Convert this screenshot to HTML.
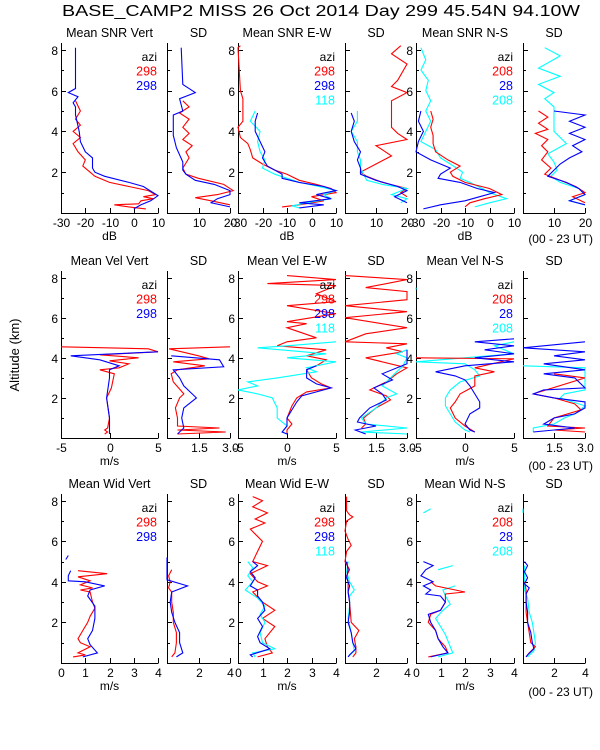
<!DOCTYPE html>
<html><head><meta charset="utf-8">
<style>
html,body{margin:0;padding:0;background:#fff;}
svg{display:block;font-family:"Liberation Sans",sans-serif;}
</style></head>
<body>
<svg id="chart" width="600" height="750" viewBox="0 0 600 750" xmlns="http://www.w3.org/2000/svg">
<rect x="0" y="0" width="600" height="750" fill="#fff"/>
<text x="62" y="16" font-size="15.5" fill="#000" textLength="518" lengthAdjust="spacingAndGlyphs">BASE_CAMP2 MISS  26 Oct 2014 Day 299 45.54N  94.10W</text>
<text transform="translate(19,355) rotate(-90)" text-anchor="middle" font-size="13" fill="#000">Altitude (km)</text>
<g id="plots"></g>
</svg>
<script>
// ---- data: altitude (km) arrays and value arrays; null = gap ----
// Row 1: SNR (dB) and SD
const snrVertRedAlt=[5.5,5.0,4.6,4.3,4.0,3.7,3.4,3.0,2.6,2.3,2.0,1.8,1.5,1.3,1.1,0.9,0.8,0.7,0.6,0.45,0.4,0.3,0.2];
const snrVertRedVal=[-24,-22,-24,-22,-25,-22,-25,-23,-20,-21,-18,-16,-10,-2,6,9,4,8,3,2,-8,-2,5];
const snrVertBlueAlt=[8.1,6.1,5.9,5.7,5.4,5.2,4.8,4.0,3.5,3.0,2.7,2.2,2.0,1.8,1.5,1.3,1.0,0.85,0.6,0.4,0.2];
const snrVertBlueVal=[-24,-24,-27,-23,-25,-24,-24,-22.5,-22,-20,-17,-17,-16,-12,-2,4,8,10,7,3,0];
const sdVertRedAlt=[5.5,5.2,4.9,4.6,4.2,3.9,3.6,3.3,3.0,2.7,2.2,1.9,1.7,1.4,1.1,0.9,0.75,0.6,0.4];
const sdVertRedVal=[5,7,4,7,5,7,5,8,6,7,5,6,10,18,21,16,9,14,20];
const sdVertBlueAlt=[8.1,6.3,5.9,5.6,5.0,4.8,3.8,3.2,2.5,2.1,1.9,1.6,1.4,1.1,0.9,0.7,0.5,0.3];
const sdVertBlueVal=[4.5,5,9,4,5,2,2,3,5,5,6,9,15,20,20,16,14,20];
const snrEwRedAlt=[8.2,8.1,6.0,5.6,4.5,4.2,3.7,3.4,3.1,2.7,2.4,2.1,1.9,1.6,1.4,1.2,1.0,0.8,0.6,0.4,0.3];
const snrEwRedVal=[-29,-30,-29,-28,-28,-30,-29,-26,-25,-24,-20,-15,-10,-5,2,8,10,0,5,-5,-12];
const snrEwBlueAlt=[4.9,4.5,4.0,3.5,3.0,2.7,2.3,2.1,1.9,1.7,1.5,1.3,1.1,0.9,0.7,0.5,0.4,0.25];
const snrEwBlueVal=[-22,-23,-23,-21,-19,-20,-18,-15,-12,-12,-5,5,10,2,8,-5,5,-5];
const snrEwCyanAlt=[5.0,4.5,4.0,3.5,3.0,2.6,2.2,1.9,1.7,1.5,1.3,1.1,0.9,0.7,0.5,0.35,0.25];
const snrEwCyanVal=[-23,-25,-21,-22,-21,-19,-20,-15,-10,-5,3,10,5,8,-2,-8,-5];
const sdEwRedAlt=[8.2,7.8,7.3,6.5,6.2,5.9,5.5,4.2,3.9,3.6,3.3,3.1,2.8,2.4,2.0,1.8,1.5,1.2,1.0,0.8];
const sdEwRedVal=[18,15,20,17,15,20,15,15,17,20,10,12,15,10,5,7,12,20,18,20];
const sdEwBlueAlt=[4.9,4.5,4.0,3.5,3.0,2.6,2.2,1.9,1.6,1.3,1.1,0.8,0.5];
const sdEwBlueVal=[2,3,2,3,5,4,5,5,10,17,20,16,20];
const sdEwCyanAlt=[5.0,4.5,4.0,3.5,3.0,2.6,2.2,1.9,1.6,1.4,1.2,0.9,0.7,0.5];
const sdEwCyanVal=[4,4,2,4,4,5,5,6,7,12,20,15,20,18];
const snrNsRedAlt=[5.0,4.6,4.2,3.8,3.4,3.0,2.6,2.3,2.0,1.8,1.5,1.2,0.9,0.7,0.5,0.3];
const snrNsRedVal=[-24,-23,-24,-23,-23,-22,-17,-12,-16,-15,-10,0,5,-2,-8,-10];
const snrNsBlueAlt=[5.0,4.5,4.0,3.5,3.0,2.6,2.2,1.9,1.7,1.5,1.2,1.0,0.8,0.6,0.4,0.2];
const snrNsBlueVal=[-28,-29,-27,-29,-30,-24,-16,-20,-21,-12,-5,2,-4,-10,-20,-27];
const snrNsCyanAlt=[8.1,7.5,7.0,6.5,6.0,5.5,5.0,4.5,4.0,3.5,3.1,2.7,2.4,2.0,1.7,1.5,1.2,1.0,0.7,0.5,0.3];
const snrNsCyanVal=[-28,-26,-28,-25,-26,-24,-26,-24,-26,-28,-22,-20,-16,-11,-12,-8,-3,0,7,0,-6];
const sdNsRedAlt=[5.0,4.7,4.4,4.1,3.9,3.6,3.3,3.0,2.6,2.2,1.9,1.6,1.3,1.0,0.8,0.5];
const sdNsRedVal=[5,8,5,8,4,8,6,8,6,9,7,12,17,20,16,20];
const sdNsBlueAlt=[5.0,4.8,4.5,4.2,3.9,3.6,3.3,3.0,2.7,2.4,2.1,1.8,1.5,1.2,0.9,0.6,0.4];
const sdNsBlueVal=[10,20,15,20,15,20,16,19,15,12,10,8,14,18,20,15,20];
const sdNsCyanAlt=[8.1,7.7,7.1,6.7,6.3,5.9,5.6,5.2,4.0,3.4,2.9,2.5,2.1,1.8,1.5,1.2,0.9,0.6,0.4];
const sdNsCyanVal=[7,12,5,12,5,10,7,10,10,14,8,10,11,9,12,18,20,15,20];
// Row 2: radial velocity (m/s) and SD
const velVertRedAlt=[4.55,4.45,4.3,4.15,4.0,3.85,3.7,3.5,3.4,3.2,2.5,2.0,1.0,0.5,0.4,0.3,0.2];
const velVertRedVal=[-5,4,5,-1,3,0,2,1,-1,0.5,0.2,-0.3,0,-0.2,-0.5,-0.2,-0.5];
const velVertBlueAlt=[4.3,4.1,3.9,3.6,3.4,3.0,2.0,1.0,0.4,0.2];
const velVertBlueVal=[5,-4,-1,1,0,0,-0.3,0,0,0];
const velSdVertRedAlt=[4.55,4.45,4.1,3.95,3.8,3.6,3.4,3.2,2.8,2.2,2.0,1.5,1.0,0.6,0.5,0.4,0.3,0.2];
const velSdVertRedVal=[3,0.1,1.5,2,0.3,1.8,0.5,0.2,0.3,0.8,0.6,0.4,0.5,0.5,2.5,0.5,2.8,0.5];
const velSdVertBlueAlt=[4.1,3.9,3.55,3.4,3.0,2.6,2.0,1.5,1.0,0.5,0.2];
const velSdVertBlueVal=[0.2,2.5,2.7,0.3,0.6,0.8,1.4,0.8,0.7,0.8,0.5];
const velEwRedAlt=[8.1,7.9,7.7,7.6,7.2,6.8,6.6,6.2,5.8,5.7,5.5,5.0,4.8,4.6,4.4,4.1,3.9,3.6,3.4,3.0,2.7,2.5,2.3,2.0,1.6,1.0,0.7,0.4,0.2];
const velEwRedVal=[0,5,-2,5,3,5,0,5,0,2,0,3,0,-1,4,2,4,3,2,2.5,3.5,4.5,2,1,0.5,0,0.5,0,0];
const velEwBlueAlt=[3.6,3.4,3.0,2.7,2.5,2.3,2.1,1.8,1.4,1.0,0.6,0.3,0.2];
const velEwBlueVal=[3,2,2,3,4.5,3,1.5,1,0.5,0,0,-0.5,0];
const velEwCyanAlt=[4.8,4.6,4.5,4.2,4.0,3.8,3.5,3.3,3.0,2.8,2.6,2.4,2.2,2.0,1.5,1.0,0.6,0.3,0.2];
const velEwCyanVal=[5,0,-3,4,0,5,2,3,-1,-4,-3,-5,-3,-1.5,-1,-1,0,-0.5,0];
const velSdEwRedAlt=[8.1,7.9,7.5,7.3,6.9,6.6,6.3,6.0,5.5,5.2,4.8,4.7,4.5,4.3,4.0,3.5,3.2,2.8,2.4,2.1,1.9,1.5,1.0,0.7,0.5];
const velSdEwRedVal=[0,3,1,3,3,0,3,0,3,1,0,3,2,2.8,1,3,2.5,2,1.2,2,2.2,1.5,0.9,1,0.8];
const velSdEwBlueAlt=[4.4,4.0,3.7,3.2,2.9,2.5,2.2,1.9,1.5,1.0,0.8,0.6,0.4,0.2];
const velSdEwBlueVal=[3,3,3,1.8,2.3,1.4,1.8,2.0,1.2,0.7,0.6,1.5,0.5,1];
const velSdEwCyanAlt=[4.4,4.2,4.0,3.6,3.3,3.0,2.6,2.2,2.0,1.5,1.0,0.7,0.5,0.3,0.2];
const velSdEwCyanVal=[3,2.5,3,2.8,2.5,2.2,1.8,2.5,2,1.5,0.8,1,3,0.8,3];
const velNsRedAlt=[4.0,3.95,3.5,3.3,3.1,2.9,2.6,2.2,1.8,1.5,1.0,0.6,0.3];
const velNsRedVal=[-5,5,1,3,1,1,1,-0.5,-1,-1.5,-1,0,1];
const velNsBlueAlt=[4.95,4.8,4.6,4.4,4.2,4.0,3.8,3.6,3.3,3.1,2.9,2.6,2.2,1.8,1.5,1.2,0.7,0.4,0.3];
const velNsBlueVal=[5,1,5,2,5,1,5,0,-3,-1,0,0.5,1,1.5,1.5,0.5,0,0.5,1];
const velNsCyanAlt=[7.5,7.4,null,4.8,4.6,4.2,3.8,3.7,3.4,3.1,2.8,2.4,2.0,1.6,1.2,0.8,0.4,0.3];
const velNsCyanVal=[-5,-5,null,5,3,5,-5,0,1,1.5,-0.5,-1.5,-2,-2,-1.5,-1,0,0.5];
const velSdNsRedAlt=[3.2,3.0,2.2,2.0,1.7,1.4,1.0,0.6,0.5,0.4,0.3];
const velSdNsRedVal=[1.5,3,0.5,1.5,2.5,2.8,1.5,1.2,3,1.5,3];
const velSdNsBlueAlt=[4.8,4.5,4.3,4.1,3.9,3.7,3.4,3.2,3.0,2.5,2.4,2.2,2.0,1.8,1.5,1.2,1.0,0.7,0.5,0.3];
const velSdNsBlueVal=[3,0,3,1.5,3,1,3,1,2.5,3,1,0.5,1.5,3,3,2.5,1.5,1,2.5,0.5];
const velSdNsCyanAlt=[3.6,3.5,2.4,2.2,2.0,1.6,1.2,1.0,0.7,0.5,0.3];
const velSdNsCyanVal=[0,3,3,2,1.8,3,2.5,2,1.5,0.5,0.5];
// Row 3: spectral width (m/s) and SD
const widVertRedAlt=[4.55,4.4,4.25,4.05,3.85,3.7,3.6,3.5,3.0,2.7,2.3,2.0,1.6,1.2,1.0,0.8,0.5,0.4,0.3];
const widVertRedVal=[0.7,1.9,0.7,1.2,0.8,1.3,0.8,1.2,1.3,1.4,1.2,1.1,0.9,0.7,0.8,1.2,0.7,1,0.5];
const widVertBlueAlt=[5.3,5.1,null,4.55,4.3,4.05,4.0,3.8,3.6,3.3,2.8,2.2,1.6,1.2,0.9,0.5,0.3];
const widVertBlueVal=[0.3,0.2,null,0.4,0.3,0.3,1.0,1.8,1.2,1.1,1.4,1.4,1.3,1.1,1.2,1.5,0.9];
const widSdVertRedAlt=[4.6,4.3,4.0,3.7,3.5,3.0,2.5,2.0,1.5,1.0,0.5,0.3];
const widSdVertRedVal=[0.3,0.1,0.2,0.1,0.3,0.3,0.4,0.4,0.6,0.6,0.5,0.3];
const widSdVertBlueAlt=[5.2,4.1,3.8,3.5,3.0,2.5,2.0,1.5,1.0,0.5,0.3];
const widSdVertBlueVal=[0,0,1.3,0.3,0.2,0.3,0.5,0.8,0.8,1.0,0.6];
const widEwRedAlt=[8.2,8.0,7.7,7.4,7.1,6.9,6.6,6.0,5.5,5.0,4.8,4.4,4.0,3.8,3.5,3.0,2.6,2.2,1.8,1.2,0.8,0.5,0.3];
const widEwRedVal=[0.6,1.0,0.6,1.2,0.7,1.1,0.5,1,0.8,0.6,1.2,0.5,0.8,1.2,0.6,1.0,1.5,1.0,1.5,1.1,1.2,1.4,0.8];
const widEwBlueAlt=[5.0,4.8,4.5,4.2,3.8,3.6,3.3,3.0,2.6,2.2,1.8,1.3,1.0,0.7,0.4,0.3];
const widEwBlueVal=[0.6,0.8,0.5,0.7,0.5,0.8,0.8,1.0,1.1,0.8,1.0,0.8,0.9,1.3,0.5,0.6];
const widEwCyanAlt=[5.0,4.7,4.3,4.0,3.6,3.2,2.8,2.4,2.0,1.5,1.0,0.7,0.5,0.3];
const widEwCyanVal=[0.4,0.6,0.4,0.6,0.3,0.8,1.1,0.9,1.1,0.9,1.0,1.5,0.6,0.7];
const widSdEwRedAlt=[8.2,7.5,7.3,7.2,7.0,6.5,6.1,5.8,5.5,5.0,4.6,4.3,4.0,3.5,3.0,2.0,1.6,1.2,0.8,0.5,0.3];
const widSdEwRedVal=[0.1,0.1,0.3,0.5,0.1,0,0.2,0.4,0.1,0,0.3,0.1,0.2,0.2,0.3,0.4,0.9,0.6,0.7,0.7,0.5];
const widSdEwBlueAlt=[5.0,4.6,4.2,3.8,3.5,3.0,2.5,2.0,1.5,1.0,0.7,0.4,0.3];
const widSdEwBlueVal=[0.1,0.2,0.1,0.3,0.2,0.3,0.3,0.2,0.4,0.5,0.7,0.3,0.2];
const widSdEwCyanAlt=[5.0,4.5,4.0,3.6,3.3,2.8,2.2,1.5,1.0,0.6,0.3];
const widSdEwCyanVal=[0.2,0.1,0.3,0.6,0.3,0.3,0.2,0.4,0.5,0.6,0.2];
const widNsRedAlt=[4.0,3.8,3.5,3.4,3.0,2.6,2.4,2.0,1.6,1.2,0.8,0.5,0.3];
const widNsRedVal=[0.6,0.8,2.0,1.2,1.2,1.0,0.6,0.5,0.8,0.9,1.2,1.3,0.5];
const widNsBlueAlt=[5.0,4.8,4.6,4.3,4.0,3.8,3.6,3.4,3.3,3.0,2.6,2.4,2.0,1.6,1.2,0.8,0.5,0.3];
const widNsBlueVal=[0.3,0.7,0.4,0.2,0.7,0.3,0.6,0.4,1.0,1.2,1.0,0.5,0.6,0.8,0.9,1.1,1.3,0.6];
const widNsCyanAlt=[7.6,7.4,null,4.8,4.6,null,3.8,3.6,3.3,2.9,2.6,2.2,1.8,1.4,0.8,0.5,0.3];
const widNsCyanVal=[0.6,0.3,null,1.5,0.9,null,1.6,1.1,1.2,1.4,1.1,0.8,1.0,1.2,1.4,1.5,0.9];
const widSdNsRedAlt=[4.0,3.6,3.2,2.5,2.0,1.5,1.0,0.8,0.5,0.3];
const widSdNsRedVal=[0.1,0.2,0.2,0.2,0.3,0.4,0.5,0.8,0.4,0.2];
const widSdNsBlueAlt=[5.0,4.8,4.5,4.2,3.9,3.7,3.4,3.0,2.5,2.0,1.5,1.0,0.7,0.4,0.3];
const widSdNsBlueVal=[0.1,0.3,0.1,0.3,0.1,0.4,0.2,0.2,0.3,0.3,0.5,0.6,0.7,0.3,0.2];
const widSdNsCyanAlt=[7.6,7.4,null,4.8,3.6,3.2,2.5,2.0,1.5,1.0,0.6,0.3];
const widSdNsCyanVal=[0,0,null,0.1,0.1,0.3,0.4,0.6,0.7,0.8,0.7,0.3];
// tick labels
const snrTicks=[-30,-20,-10,0,10];
const snrSdTicks=[10,20];
const velTicks=[-5,0,5];
const velSdTicks=["1.5","3.0"];
const widTicks=[0,1,2,3,4];
const widSdTicks=[2,4];
const altTicks=[2,4,6,8];
const legendVert=["298","298"];
const legendEw=["298","298","118"];
const legendNs=["208","28","208"];

const NS="http://www.w3.org/2000/svg";
const root=document.getElementById('plots');
const RED="#ff0000",BLUE="#0000ff",CYAN="#00ffff";
const COLS=[[61,158],[167,230],[238,336],[345,407],[416,514],[523,585]];
const ROWS=[[43,213],[271,438],[494,663]];
const ALT_MAX=8.33;
function mk(tag,attrs,parent){const e=document.createElementNS(NS,tag);for(const k in attrs)e.setAttribute(k,attrs[k]);(parent||root).appendChild(e);return e;}
function txt(s,x,y,size,anchor,fill,parent){const t=mk('text',{x:x,y:y,'font-size':size,'text-anchor':anchor,fill:fill},parent);t.textContent=s;return t;}

function panel(r,c,title,name,xmin,xmax,ticks,xlabel,series,legend){
  const [x0,x1]=COLS[c],[y0,y1]=ROWS[r];
  const g=mk('g',{});
  
  
  const sx=v=>x0+(v-xmin)/(xmax-xmin)*(x1-x0);
  const sy=a=>y1-a/ALT_MAX*(y1-y0);
  const t=txt(title,(x0+x1)/2,y0-6,12.5,'middle','#000',g);
  
  
  const ax=mk('path',{d:`M${x0+0.5},${y0}V${y1+0.5}H${x1+0.5}`,stroke:'#000','stroke-width':1,fill:'none'},g);
  
  
  for(let a=1;a<=8;a++){const y=Math.round(sy(a))+0.5;const len=(a%2===0)?5:3;
    mk('line',{x1:x0,x2:x0+len,y1:y,y2:y,stroke:'#000'},g);
    if(a%2===0&&c%2===0){const l=txt(String(a),x0-3,y+4.5,12,'end','#000',g);
      
      }}
  ticks.forEach(tv=>{const v=parseFloat(tv);const x=Math.round(sx(v))+0.5;
    mk('line',{x1:x,x2:x,y1:y1,y2:y1-5,stroke:'#000'},g);
    const l=txt(String(tv),x,y1+14,12,'middle','#000',g);
    
    });
  if(xlabel){const l=txt(xlabel,(x0+x1)/2,y1+27,12,'middle','#000',g);
    
    }
  series.forEach(s=>{let d='',pen=false;
    for(let i=0;i<s.alt.length;i++){const a=s.alt[i],v=s.val[i];
      if(a===null||v===null){pen=false;continue;}
      d+=(pen?'L':'M')+sx(v).toFixed(1)+','+sy(a).toFixed(1);pen=true;}
    const p=mk('path',{d:d,stroke:s.color,'stroke-width':1.1,fill:'none'},g);
    
    });
  if(legend){const cols=[RED,BLUE,CYAN];const lx=x1-1;const ly=y0+18;
    const h=txt('azi',lx,ly,12,'end','#000',g);
    
    
    legend.forEach((s,i)=>{const e=txt(s,lx,ly+14.5*(i+1),12.5,'end',cols[i],g);
      
      });}
}
const S=(alt,val,color,label)=>({alt,val,color,label});
// Row 1
panel(0,0,'Mean SNR Vert','snr-vert',-30,10,snrTicks,'dB',[S(snrVertRedAlt,snrVertRedVal,RED,'red'),S(snrVertBlueAlt,snrVertBlueVal,BLUE,'blue')],legendVert);
panel(0,1,'SD','snr-vert-sd',0,20,snrSdTicks,'',[S(sdVertRedAlt,sdVertRedVal,RED,'red'),S(sdVertBlueAlt,sdVertBlueVal,BLUE,'blue')]);
panel(0,2,'Mean SNR E-W','snr-ew',-30,10,snrTicks,'dB',[S(snrEwRedAlt,snrEwRedVal,RED,'red'),S(snrEwCyanAlt,snrEwCyanVal,CYAN,'cyan'),S(snrEwBlueAlt,snrEwBlueVal,BLUE,'blue')],legendEw);
panel(0,3,'SD','snr-ew-sd',0,20,snrSdTicks,'',[S(sdEwRedAlt,sdEwRedVal,RED,'red'),S(sdEwCyanAlt,sdEwCyanVal,CYAN,'cyan'),S(sdEwBlueAlt,sdEwBlueVal,BLUE,'blue')]);
panel(0,4,'Mean SNR N-S','snr-ns',-30,10,snrTicks,'dB',[S(snrNsCyanAlt,snrNsCyanVal,CYAN,'cyan'),S(snrNsRedAlt,snrNsRedVal,RED,'red'),S(snrNsBlueAlt,snrNsBlueVal,BLUE,'blue')],legendNs);
panel(0,5,'SD','snr-ns-sd',0,20,snrSdTicks,'',[S(sdNsCyanAlt,sdNsCyanVal,CYAN,'cyan'),S(sdNsRedAlt,sdNsRedVal,RED,'red'),S(sdNsBlueAlt,sdNsBlueVal,BLUE,'blue')]);
// Row 2
panel(1,0,'Mean Vel Vert','vel-vert',-5,5,velTicks,'m/s',[S(velVertRedAlt,velVertRedVal,RED,'red'),S(velVertBlueAlt,velVertBlueVal,BLUE,'blue')],legendVert);
panel(1,1,'SD','vel-vert-sd',0,3,velSdTicks,'',[S(velSdVertRedAlt,velSdVertRedVal,RED,'red'),S(velSdVertBlueAlt,velSdVertBlueVal,BLUE,'blue')]);
panel(1,2,'Mean Vel E-W','vel-ew',-5,5,velTicks,'m/s',[S(velEwRedAlt,velEwRedVal,RED,'red'),S(velEwCyanAlt,velEwCyanVal,CYAN,'cyan'),S(velEwBlueAlt,velEwBlueVal,BLUE,'blue')],legendEw);
panel(1,3,'SD','vel-ew-sd',0,3,velSdTicks,'',[S(velSdEwRedAlt,velSdEwRedVal,RED,'red'),S(velSdEwCyanAlt,velSdEwCyanVal,CYAN,'cyan'),S(velSdEwBlueAlt,velSdEwBlueVal,BLUE,'blue')]);
panel(1,4,'Mean Vel N-S','vel-ns',-5,5,velTicks,'m/s',[S(velNsCyanAlt,velNsCyanVal,CYAN,'cyan'),S(velNsRedAlt,velNsRedVal,RED,'red'),S(velNsBlueAlt,velNsBlueVal,BLUE,'blue')],legendNs);
panel(1,5,'SD','vel-ns-sd',0,3,velSdTicks,'',[S(velSdNsCyanAlt,velSdNsCyanVal,CYAN,'cyan'),S(velSdNsRedAlt,velSdNsRedVal,RED,'red'),S(velSdNsBlueAlt,velSdNsBlueVal,BLUE,'blue')]);
// Row 3
panel(2,0,'Mean Wid Vert','wid-vert',0,4,widTicks,'m/s',[S(widVertRedAlt,widVertRedVal,RED,'red'),S(widVertBlueAlt,widVertBlueVal,BLUE,'blue')],legendVert);
panel(2,1,'SD','wid-vert-sd',0,4,widSdTicks,'',[S(widSdVertRedAlt,widSdVertRedVal,RED,'red'),S(widSdVertBlueAlt,widSdVertBlueVal,BLUE,'blue')]);
panel(2,2,'Mean Wid E-W','wid-ew',0,4,widTicks,'m/s',[S(widEwRedAlt,widEwRedVal,RED,'red'),S(widEwCyanAlt,widEwCyanVal,CYAN,'cyan'),S(widEwBlueAlt,widEwBlueVal,BLUE,'blue')],legendEw);
panel(2,3,'SD','wid-ew-sd',0,4,widSdTicks,'',[S(widSdEwRedAlt,widSdEwRedVal,RED,'red'),S(widSdEwCyanAlt,widSdEwCyanVal,CYAN,'cyan'),S(widSdEwBlueAlt,widSdEwBlueVal,BLUE,'blue')]);
panel(2,4,'Mean Wid N-S','wid-ns',0,4,widTicks,'m/s',[S(widNsCyanAlt,widNsCyanVal,CYAN,'cyan'),S(widNsRedAlt,widNsRedVal,RED,'red'),S(widNsBlueAlt,widNsBlueVal,BLUE,'blue')],legendNs);
panel(2,5,'SD','wid-ns-sd',0,4,widSdTicks,'',[S(widSdNsCyanAlt,widSdNsCyanVal,CYAN,'cyan'),S(widSdNsRedAlt,widSdNsRedVal,RED,'red'),S(widSdNsBlueAlt,widSdNsBlueVal,BLUE,'blue')]);
// time-range notes
[ROWS[0][1]+30,ROWS[1][1]+32,ROWS[2][1]+33].forEach(y=>{const n=txt('(00 - 23 UT)',593,y,12,'end','#000');
  
  });
</script>
</body></html>
